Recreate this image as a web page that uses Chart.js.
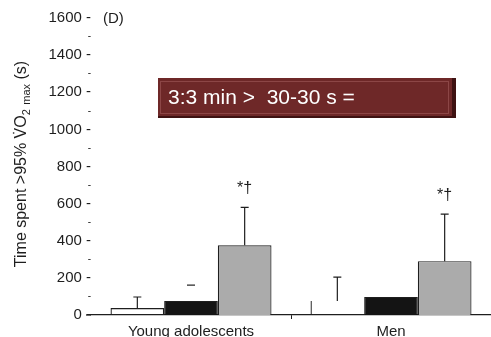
<!DOCTYPE html>
<html>
<head>
<meta charset="utf-8">
<script src="https://cdn.jsdelivr.net/npm/chart.js@4.4.0/dist/chart.umd.min.js"></script>
<style>
  html, body { margin: 0; padding: 0; background: #fff; }
  #wrap { width: 491px; height: 337px; position: relative; }
</style>
</head>
<body>
<div id="wrap"><canvas id="barChart"></canvas></div>
<script>
// data (seconds)
var groups = ['Young adolescents', 'Men'];
var seriesNames = ['30-30 s', '3:3 min', 'long'];
var whiteValues = [38, 75];
var blackValues = [75, 97];
var grayValues = [376, 290];
var whiteErrors = [97, 204];
var blackErrors = [161, null];
var grayErrors = [580, 543];
var grayMarks = ['*\u2020', '*\u2020'];
var yTicks = [0, 200, 400, 600, 800, 1000, 1200, 1400, 1600];

var errorTops = [whiteErrors, blackErrors, grayErrors];
var FONT = '"Liberation Sans", Arial, sans-serif';
var INK = '#1e1e1e';

// error bars, drawn from the bar positions the library computes
var errorBarPlugin = {
    id: 'errorBars',
    afterDatasetsDraw: function (chart) {
        var ctx = chart.ctx;
        var yScale = chart.scales.y;
        ctx.save();
        ctx.strokeStyle = INK;
        ctx.lineWidth = 1.2;
        chart.data.datasets.forEach(function (ds, di) {
            var meta = chart.getDatasetMeta(di);
            meta.data.forEach(function (bar, i) {
                var top = errorTops[di][i];
                if (top == null) return;
                var yTop = yScale.getPixelForValue(top);
                var x = bar.x;
                // black bar in young group only shows its cap
                var capOnly = (di == 1 && i == 0);
                ctx.beginPath();
                if (!capOnly) {
                    ctx.moveTo(x, bar.y);
                    ctx.lineTo(x, yTop);
                }
                ctx.moveTo(x - 4, yTop);
                ctx.lineTo(x + 4, yTop);
                ctx.stroke();
                if (di == 2) {
                    ctx.fillStyle = INK;
                    ctx.font = '16px ' + FONT;
                    ctx.textAlign = 'center';
                    ctx.textBaseline = 'middle';
                    ctx.fillText(grayMarks[i], x, yTop - 19);
                }
            });
        });
        ctx.restore();
    }
};

// titles, panel letter and the red banner
var decorPlugin = {
    id: 'decor',
    afterDraw: function (chart) {
        var ctx = chart.ctx;
        ctx.save();

        // (D)
        ctx.fillStyle = INK;
        ctx.font = '15px ' + FONT;
        ctx.textAlign = 'left';
        ctx.textBaseline = 'middle';
        ctx.fillText('(D)', 103, 19);

        // axis line a bit past the left of the plot
        ctx.strokeStyle = INK;
        ctx.lineWidth = 1.2;
        ctx.beginPath();
        ctx.moveTo(86, chart.chartArea.bottom);
        ctx.lineTo(chart.chartArea.left, chart.chartArea.bottom);
        ctx.stroke();

        // y title with subscripts, rotated
        var parts = [
            {t: 'Time spent >95% ', s: 16, dy: 0},
            {t: 'V\u0307O', s: 16, dy: 0},
            {t: '2', s: 11, dy: 5},
            {t: ' ', s: 16, dy: 0},
            {t: 'max', s: 11, dy: 5},
            {t: ' (s)', s: 16, dy: 0}
        ];
        var total = 0;
        parts.forEach(function (p) {
            ctx.font = p.s + 'px ' + FONT;
            p.w = ctx.measureText(p.t).width;
            total += p.w;
        });
        ctx.translate(22, 164);
        ctx.rotate(-Math.PI / 2);
        var px = -total / 2;
        ctx.textBaseline = 'middle';
        parts.forEach(function (p) {
            ctx.font = p.s + 'px ' + FONT;
            ctx.fillText(p.t, px, p.dy);
            px += p.w;
        });
        ctx.setTransform(1, 0, 0, 1, 0, 0);

        // banner
        var bx = 158, by = 78, bw = 298, bh = 40;
        ctx.fillStyle = '#3e1212';
        ctx.fillRect(bx, by, bw, bh);
        ctx.fillStyle = '#6e2828';
        ctx.fillRect(bx, by, bw - 4, bh - 2);
        ctx.strokeStyle = '#8c4646';
        ctx.lineWidth = 1;
        ctx.strokeRect(bx + 2.5, by + 3.5, bw - 10, bh - 8);
        ctx.fillStyle = '#ffffff';
        ctx.font = '21px ' + FONT;
        ctx.textAlign = 'left';
        ctx.textBaseline = 'middle';
        ctx.fillText('3:3 min >  30-30 s =', 168, 98);

        ctx.restore();
    }
};

var ctx = document.getElementById('barChart');
var myChart = new Chart(ctx, {
    type: 'bar',
    data: {
        labels: groups,
        datasets: [
            {
                label: seriesNames[0],
                data: whiteValues,
                backgroundColor: 'rgba(255,255,255,0)',
                borderColor: INK,
                borderWidth: function (c) {
                    // men's white bar only keeps its left edge in the figure
                    return c.dataIndex == 1 ? {left: 1.2, top: 0, right: 0, bottom: 0} : 1.2;
                },
                borderSkipped: 'bottom'
            },
            {
                label: seriesNames[1],
                data: blackValues,
                backgroundColor: '#141414',
                borderColor: INK,
                borderWidth: 1,
                borderSkipped: 'bottom'
            },
            {
                label: seriesNames[2],
                data: grayValues,
                backgroundColor: '#ababab',
                borderColor: INK,
                borderWidth: 1.2,
                borderSkipped: 'bottom'
            }
        ]
    },
    options: {
        responsive: true,
        maintainAspectRatio: false,
        animation: false,
        layout: { padding: { top: 18, right: 0, bottom: 0, left: 0 } },
        datasets: { bar: { categoryPercentage: 0.805, barPercentage: 1.0 } },
        plugins: {
            legend: { display: false },
            tooltip: { enabled: false }
        },
        scales: {
            x: {
                grid: {
                    display: true,
                    drawOnChartArea: false,
                    drawTicks: true,
                    tickLength: 4,
                    offset: true,
                    color: function (c) { return c.index == 1 ? INK : 'rgba(0,0,0,0)'; }
                },
                border: { display: true, color: INK, width: 1.2 },
                ticks: {
                    color: INK,
                    font: { family: FONT, size: 15 },
                    padding: 4,
                    maxRotation: 0
                },
                afterFit: function (scale) { scale.height = 22; }
            },
            y: {
                min: 0,
                max: 1600,
                grid: { display: false, drawTicks: false },
                border: { display: false },
                afterBuildTicks: function (scale) {
                    var t = [];
                    for (var i = 0; i < yTicks.length; i++) {
                        t.push({value: yTicks[i]});
                        if (i < yTicks.length - 1) t.push({value: yTicks[i] + 100});
                    }
                    scale.ticks = t;
                },
                ticks: {
                    color: INK,
                    padding: 0,
                    autoSkip: false,
                    font: function (c) {
                        var major = c.tick && yTicks.indexOf(c.tick.value) >= 0;
                        return { family: FONT, size: major ? 15 : 10 };
                    },
                    callback: function (value) {
                        return yTicks.indexOf(value) >= 0 ? value + ' -' : '-';
                    }
                },
                afterFit: function (scale) { scale.width = 91; }
            }
        }
    },
    plugins: [errorBarPlugin, decorPlugin]
});
</script>
</body>
</html>
